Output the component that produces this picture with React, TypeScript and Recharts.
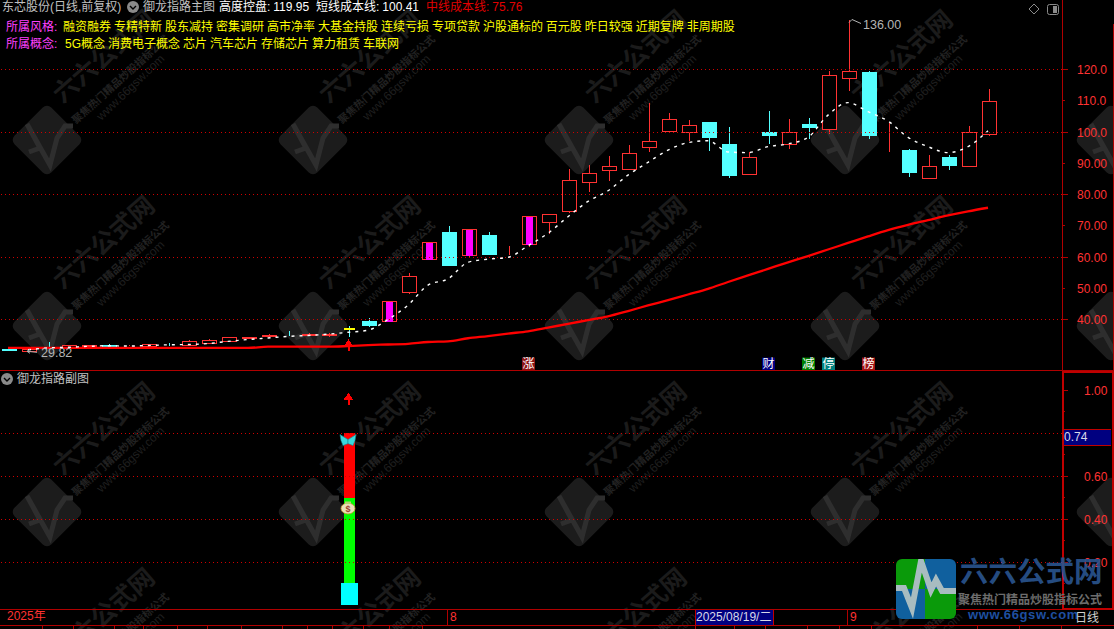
// App.tsx
import { ComposedChart, Bar, Line, XAxis, YAxis, ReferenceLine, ReferenceDot } from "recharts";

const opens = [30.6, 29.9, 31.5, 31.1, 31.6, 31.7, 31.5, 31.5, 31.9, 31.7, 32.6, 33.2, 34.2, 34.8, 35.4, 35.0, 35.0, 37.7, 39.5, 39.6, 48.9, 59.5, 68.0, 60.7, 67.0, 60.7, 64.3, 71.1, 74.8, 83.9, 87.9, 88.1, 95.1, 100.2, 100.1, 103.2, 96.2, 86.5, 100.0, 96.1, 102.6, 100.9, 117.2, 119.2, 98.9, 94.1, 85.4, 91.9, 89.0, 99.3];
const closes = [30.1, 30.5, 31.4, 31.7, 31.7, 31.6, 31.6, 32.2, 31.8, 33.0, 33.4, 34.3, 34.3, 35.2, 35.3, 35.4, 35.5, 37.6, 38.2, 45.8, 53.8, 64.7, 57.4, 68.9, 61.0, 60.8, 73.1, 73.7, 84.5, 86.8, 89.0, 93.2, 97.0, 104.1, 102.1, 98.5, 86.3, 91.9, 99.1, 99.9, 101.7, 118.1, 119.4, 99.1, 99.0, 87.3, 89.0, 89.5, 99.9, 110.0];
const highs = [30.9, 30.6, 32.8, 31.8, 31.8, 32.2, 31.7, 32.3, 32.5, 33.4, 33.8, 34.4, 34.4, 35.3, 36.3, 35.7, 35.7, 37.9, 40.5, 45.9, 54.9, 64.8, 69.9, 69.0, 68.0, 63.5, 73.2, 73.8, 88.2, 89.4, 92.3, 95.8, 109.2, 106.0, 103.8, 103.3, 101.6, 93.6, 106.7, 104.2, 104.5, 119.5, 136.0, 119.4, 102.8, 94.6, 92.6, 92.7, 101.9, 113.8];
const lows = [30.0, 29.82, 31.1, 31.0, 31.6, 31.4, 31.4, 31.5, 31.5, 31.5, 32.5, 33.0, 34.0, 34.6, 34.8, 34.9, 34.5, 34.5, 37.6, 39.4, 48.2, 59.0, 57.1, 59.9, 60.6, 60.5, 63.3, 67.4, 74.2, 80.9, 84.3, 88.0, 93.7, 99.6, 97.1, 94.0, 85.4, 86.4, 96.2, 94.7, 97.7, 99.5, 113.2, 97.9, 93.7, 85.7, 85.0, 87.8, 88.9, 98.7];
const shortCost = [null, 30.3, 30.9, 31.1, 31.4, 31.6, 31.5, 31.7, 31.9, 32.0, 32.3, 33.0, 33.6, 34.1, 34.6, 34.9, 35.3, 35.9, 36.6, 40.0, 44.6, 51.0, 53.0, 58.3, 59.3, 59.9, 63.6, 67.6, 72.9, 77.8, 81.2, 86.2, 90.3, 94.2, 96.6, 97.2, 93.6, 93.4, 95.3, 96.2, 98.3, 105.4, 109.4, 106.5, 103.5, 98.3, 95.3, 93.4, 95.3, 100.4];
const midCost = [30.9, 30.9, 30.9, 30.9, 30.9, 30.9, 30.9, 30.9, 30.9, 30.9, 30.9, 30.9, 30.9, 31.3, 31.3, 31.3, 31.3, 31.5, 31.8, 32.0, 32.2, 32.8, 33.0, 34.0, 34.7, 35.5, 36.2, 37.4, 38.6, 39.8, 41.0, 42.7, 44.5, 46.2, 48.0, 49.8, 52.0, 54.1, 56.2, 58.3, 60.3, 62.4, 64.5, 66.6, 68.6, 70.3, 71.8, 73.3, 74.6, 75.76];
const magentaDays = [19, 21, 23, 26];
const signalDay = 17;

const priceTicks = [120, 110, 100, 90, 80, 70, 60, 50, 40];
const priceLabels = ["120.0", "110.0", "100.0", "90.00", "80.00", "70.00", "60.00", "50.00", "40.00"];
const priceGrid = [120, 100, 80, 60, 40];

const subTicks = [1, 0.9, 0.8, 0.7, 0.6, 0.5, 0.4, 0.3, 0.2, 0.1];
const subLabels = ["1.00", "", "", "", "0.60", "", "0.40", "", "0.20", ""];
const subGrid = [0.8, 0.6, 0.4, 0.2];
const subCyan = 0.104;
const subGreen = 0.396;
const subRed = 0.3;

const eventDays = [26, 38, 40, 41, 43];
const eventNames = ["涨", "财", "减", "停", "榜"];
const eventColors = ["#8c1414", "#000080", "#008000", "#008080", "#a01414"];

const dateTicks = [0, 22, 35, 42];
const dateNames = ["2025年", "8", "2025/08/19/二", "9"];

const styleTags = "融资融券 专精特新 股东减持 密集调研 高市净率 大基金持股 连续亏损 专项贷款 沪股通标的 百元股 昨日较强 近期复牌 非周期股";
const conceptTags = "5G概念 消费电子概念 芯片 汽车芯片 存储芯片 算力租赁 车联网";
const tabLines = [42, 73, 114, 143, 177, 207, 241, 282, 307, 332, 363, 389, 422, 695, 734, 765, 807, 839, 871, 977, 1019, 1061];

const wmCols = [47, 313, 579, 845, 1111];
const wmRows = [140, 326, 512, 698];

const RED = "#ff3232";
const CYAN = "#54ffff";
const LINE = "#b00000";
const FONT = '"Liberation Sans","Noto Sans CJK SC",sans-serif';

const slots = Array.from({ length: 53 }, (_, i) => i);
const rows = slots.map((i) => ({
  idx: i,
  range: i < lows.length ? [lows[i], highs[i]] : null,
  open: opens[i],
  close: closes[i],
  short: shortCost[i],
  mid: midCost[i],
}));
const subRows = slots.map((i) => ({
  idx: i,
  cyan: i === signalDay ? subCyan : null,
  green: i === signalDay ? subGreen : null,
  red: i === signalDay ? subRed : null,
}));

function Candle(props: any) {
  const { x, y, width, height, payload } = props;
  if (!payload.range) return null;
  const [low, high] = payload.range;
  const ppu = height / (high - low);
  const yOf = (v: number) => Math.round(y + (high - v) * ppu);
  const cx = Math.round(x + width / 2);
  const up = payload.close >= payload.open;
  const color = up ? RED : CYAN;
  const top = yOf(Math.max(payload.open, payload.close));
  const bot = yOf(Math.min(payload.open, payload.close));
  return (
    <g shapeRendering="crispEdges">
      <line x1={cx + 0.5} x2={cx + 0.5} y1={yOf(high)} y2={yOf(low)} stroke={color} />
      <rect x={cx - 6.5} y={top + 0.5} width={14} height={bot - top} fill={up ? "#000" : CYAN} stroke={color} />
      {magentaDays.includes(payload.idx) && <rect x={cx - 3} y={top + 1} width={7} height={bot - top} fill="#ff00ff" />}
      {payload.idx === signalDay && <rect x={cx - 5} y={top + 1} width={11} height={2} fill="#ffff00" />}
    </g>
  );
}

function PriceTick(props: any) {
  const { x, y, payload } = props;
  const label = priceLabels[priceTicks.indexOf(payload.value)];
  const major = priceGrid.includes(payload.value);
  return (
    <g>
      <line x1={x} x2={x + (major ? 6 : 3)} y1={y} y2={y} stroke={LINE} shapeRendering="crispEdges" />
      <text x={x + 15} y={y + 4.5} fill={RED} fontSize={12} fontFamily={FONT}>{label}</text>
    </g>
  );
}

function SubTick(props: any) {
  const { x, y, payload } = props;
  const label = subLabels[subTicks.indexOf(payload.value)];
  const major = Math.round(payload.value * 10) % 2 === 0 || payload.value === 1;
  return (
    <g>
      <line x1={x} x2={x + (major ? 6 : 3)} y1={y} y2={y} stroke={LINE} shapeRendering="crispEdges" />
      {label && <text x={x + 22} y={y + 4.5} fill={RED} fontSize={12} fontFamily={FONT}>{label}</text>}
    </g>
  );
}

function DateTick(props: any) {
  const { x, y, payload } = props;
  const name = dateNames[dateTicks.indexOf(payload.value)];
  if (payload.value === 0) {
    return <text x={x - 1} y={y + 14} fill={RED} fontSize={12} fontFamily={FONT}>{name}</text>;
  }
  if (name.length > 2) {
    return (
      <g>
        <rect x={x - 13} y={y + 3} width={78} height={16} fill="#000080" stroke="#c00000" shapeRendering="crispEdges" />
        <text x={x - 12} y={y + 15} fill="#d8d8e8" fontSize={12} fontFamily={FONT}>{name}</text>
      </g>
    );
  }
  return (
    <g>
      <line x1={x - 0.5} x2={x - 0.5} y1={y + 3} y2={y + 19} stroke={LINE} shapeRendering="crispEdges" />
      <text x={x + 2} y={y + 15} fill={RED} fontSize={12} fontFamily={FONT}>{name}</text>
    </g>
  );
}

function Arrow({ cx, cy }: any) {
  return (
    <g shapeRendering="crispEdges">
      <path d={`M${cx + 0.5} ${cy - 6} L${cx + 5.5} ${cy + 1} L${cx - 4.5} ${cy + 1} Z`} fill="#ff0000" />
      <rect x={cx - 0.5} y={cy} width={2} height={6} fill="#ff0000" />
    </g>
  );
}

function Butterfly({ cx, cy }: any) {
  return (
    <g fill="#39d8dc" stroke="#128a90" strokeWidth={0.6}>
      <path d={`M${cx} ${cy - 1} L${cx - 8} ${cy - 6} L${cx - 7} ${cy} L${cx - 5} ${cy + 5} L${cx} ${cy + 3} Z`} />
      <path d={`M${cx} ${cy - 1} L${cx + 8} ${cy - 6} L${cx + 7} ${cy} L${cx + 5} ${cy + 5} L${cx} ${cy + 3} Z`} />
    </g>
  );
}

function MoneyBag({ cx, cy }: any) {
  return (
    <g>
      <ellipse cx={cx} cy={cy + 1} rx={7} ry={5.5} fill="#e8dfb8" stroke="#c89030" strokeWidth={0.8} />
      <rect x={cx - 3} y={cy - 6} width={6} height={2.5} fill="#b8d070" />
      <text x={cx} y={cy + 4.5} textAnchor="middle" fontSize={9} fontWeight={700} fill="#a04030" fontFamily={FONT}>$</text>
    </g>
  );
}

function EventBadge({ cx, cy, name, color }: any) {
  return (
    <g>
      <rect x={cx - 6} y={cy - 6} width={13} height={13} fill={color} />
      <text x={cx + 0.5} y={cy + 4.5} textAnchor="middle" fontSize={12} fill="#fff" fontFamily={FONT}>{name}</text>
    </g>
  );
}

function HighMark({ cx, cy }: any) {
  return (
    <g stroke="#b4b4b4" fill="none">
      <path d={`M${cx + 1} ${cy + 3} L${cx + 4} ${cy} L${cx + 13} ${cy + 4}`} />
      <text x={cx + 15} y={cy + 9} fill="#b4b4b4" stroke="none" fontSize={12.5} fontFamily={FONT}>136.00</text>
    </g>
  );
}

function LowMark({ cx, cy }: any) {
  return (
    <g stroke="#b4b4b4" fill="none">
      <path d={`M${cx + 2} ${cy + 2} L${cx - 1} ${cy} L${cx + 2} ${cy - 2} M${cx - 1} ${cy} L${cx + 9} ${cy + 1}`} />
      <text x={cx + 13} y={cy + 6} fill="#b4b4b4" stroke="none" fontSize={12.5} fontFamily={FONT}>29.82</text>
    </g>
  );
}

function Watermarks() {
  const pulse = "-18,12 -7,8 -20,-16 3,25 10,-2 18,-14 26,-14";
  return (
    <svg width={1114} height={629} style={{ position: "absolute", left: 0, top: 0 }}>
      {wmCols.map((cx) =>
        wmRows.map((cy) => (
          <g key={`${cx}-${cy}`} transform={`translate(${cx} ${cy})`}>
            {cy < 600 && <rect x={-26} y={-26} width={52} height={52} rx={6} fill="#1c1c1c" transform="rotate(45)" />}
            {cy < 600 && <polyline points={pulse} fill="none" stroke="#2e2e2e" strokeWidth={5} />}
            <text transform="translate(58 -82) rotate(-41)" textAnchor="middle" dominantBaseline="middle" fontSize={25} fontWeight={700} fill="#1b1b1b" fontFamily={FONT}>六六公式网</text>
            <text transform="translate(74 -60) rotate(-42)" textAnchor="middle" dominantBaseline="middle" fontSize={10.5} fontWeight={700} fill="#222" fontFamily={FONT}>聚焦热门精品炒股指标公式</text>
            <text transform="translate(84 -52) rotate(-44)" textAnchor="middle" dominantBaseline="middle" fontSize={12} fill="#1f1f1f" fontFamily={FONT}>www.66gsw.com</text>
          </g>
        ))
      )}
    </svg>
  );
}

function Header() {
  const label = (left: number, top: number, color: string, text: string) => (
    <div style={{ position: "absolute", left, top, color, fontSize: 12, lineHeight: "12px", whiteSpace: "pre", wordSpacing: "-0.35px", fontFamily: FONT }}>{text}</div>
  );
  return (
    <>
      {label(2, 1, "#c0c0c0", "东芯股份(日线,前复权)")}
      <svg width={12} height={12} style={{ position: "absolute", left: 127, top: 1 }}>
        <circle cx={6} cy={6} r={6} fill="#8a8a8a" />
        <path d="M3 5 L6 8 L9 5" stroke="#000" fill="none" strokeWidth={1.4} />
      </svg>
      {label(143, 1, "#c0c0c0", "御龙指路主图")}
      {label(219, 1, "#ffffff", "高度控盘: 119.95")}
      {label(316, 1, "#ffffff", "短线成本线: 100.41")}
      {label(426, 1, "#e00000", "中线成本线: 75.76")}
      {label(6, 21, "#ff40ff", "所属风格:")}
      {label(63, 21, "#ffff00", styleTags)}
      {label(6, 38, "#ff40ff", "所属概念:")}
      {label(65, 38, "#ffff00", conceptTags)}
      {label(17, 373, "#c0c0c0", "御龙指路副图")}
      <svg width={12} height={12} style={{ position: "absolute", left: 1, top: 373 }}>
        <circle cx={6} cy={6} r={6} fill="#8a8a8a" />
        <path d="M3 5 L6 8 L9 5" stroke="#000" fill="none" strokeWidth={1.4} />
      </svg>
      <svg width={34} height={16} style={{ position: "absolute", left: 1026, top: 1 }}>
        <path d="M8 3 L13 8 L8 13 L3 8 Z" fill="none" stroke="#8a8a8a" />
        <rect x={21.5} y={3.5} width={11} height={10} rx={2} fill="none" stroke="#8a8a8a" />
        <rect x={27} y={5} width={4} height={7} fill="#8a8a8a" />
      </svg>
    </>
  );
}

function Frame() {
  const hLine = (top: number, w = 1114) => <div style={{ position: "absolute", left: 0, top, width: w, height: 1, background: LINE }} />;
  return (
    <>
      {hLine(370)}
      {hLine(609)}
      {hLine(625)}
      <div style={{ position: "absolute", left: 1113, top: 24, width: 1, height: 346, background: LINE }} />
      <div style={{ position: "absolute", left: 1062, top: 371, width: 48, height: 235, border: "2px solid #c00000" }} />
      <div style={{ position: "absolute", left: 1064, top: 429, width: 47, height: 15, background: "#000080", borderTop: "1px solid #c00000", borderBottom: "1px solid #c00000", color: "#d8d8e8", fontSize: 12, lineHeight: "15px", fontFamily: FONT }}>0.74</div>
      {tabLines.map((x) => (
        <div key={x} style={{ position: "absolute", left: x, top: 625, width: 1, height: 4, background: LINE }} />
      ))}
    </>
  );
}

function Logo() {
  return (
    <>
      <svg width={62} height={62} style={{ position: "absolute", left: 895, top: 558 }}>
        <defs>
          <clipPath id="logoClip"><rect x={1} y={1} width={60} height={60} rx={6} /></clipPath>
        </defs>
        <g clipPath="url(#logoClip)">
          <rect x={0} y={0} width={30} height={31} fill="#0a9a0a" />
          <rect x={30} y={0} width={32} height={31} fill="#10609e" />
          <rect x={0} y={31} width={30} height={31} fill="#10609e" />
          <rect x={30} y={31} width={32} height={31} fill="#0a9a0a" />
          <polyline points="0,30 9,30 17,50 26,3 36,32 41,22 47,33 62,33" fill="none" stroke="#a8bcc0" strokeWidth={6} />
        </g>
      </svg>
      <div style={{ position: "absolute", left: 960, top: 555, color: "#2a5590", opacity: 0.9, fontSize: 28.5, fontWeight: 700, lineHeight: "34px", whiteSpace: "pre", fontFamily: FONT }}>六六公式网</div>
      <div style={{ position: "absolute", left: 958, top: 593, color: "#6c6c6c", fontSize: 12, fontWeight: 700, lineHeight: "14px", whiteSpace: "pre", fontFamily: FONT }}>聚焦热门精品炒股指标公式</div>
      <div style={{ position: "absolute", left: 968, top: 607, color: "#1f4fa0", fontSize: 13, fontWeight: 700, letterSpacing: 0.6, lineHeight: "15px", whiteSpace: "pre", fontFamily: FONT }}>www.66gsw.com</div>
      <div style={{ position: "absolute", left: 1075, top: 611, color: "#d0d0d0", fontSize: 12, lineHeight: "14px", fontFamily: FONT }}>日线</div>
    </>
  );
}

function MainChart() {
  return (
    <ComposedChart width={1116} height={371} data={rows} margin={{ top: 0, right: 0, bottom: 0, left: 0 }} style={{ position: "absolute", left: -2, top: 0 }}>
      <XAxis dataKey="idx" type="category" hide padding={{ left: 0, right: 4 }} />
      <YAxis
        orientation="right"
        width={52}
        domain={[23.52, 142.24]}
        allowDataOverflow
        ticks={priceTicks}
        interval={0}
        tick={PriceTick}
        tickLine={false}
        tickSize={0}
        tickMargin={0}
        axisLine={{ stroke: LINE, shapeRendering: "crispEdges" }}
      />
      {priceGrid.map((v) => (
        <ReferenceLine key={v} y={v} stroke="#d00000" strokeDasharray="1 3" shapeRendering="crispEdges" />
      ))}
      <Bar dataKey="range" barSize={15} shape={Candle} isAnimationActive={false} />
      <Line dataKey="mid" type="monotone" stroke="#ff0000" strokeWidth={2.3} dot={false} activeDot={false} isAnimationActive={false} />
      <Line dataKey="short" type="monotone" stroke="#ffffff" strokeWidth={1.4} strokeDasharray="3 5" dot={false} activeDot={false} isAnimationActive={false} />
      <ReferenceDot x={signalDay} y={31.7} ifOverflow="visible" shape={Arrow} />
      <ReferenceDot x={42} y={136} ifOverflow="visible" shape={HighMark} />
      <ReferenceDot x={1} y={29.82} ifOverflow="visible" shape={LowMark} />
      {eventDays.map((d, i) => (
        <ReferenceDot key={d} x={d} y={25.9} ifOverflow="visible" shape={(p: any) => <EventBadge {...p} name={eventNames[i]} color={eventColors[i]} />} />
      ))}
    </ComposedChart>
  );
}

const slimBar = (w: number, fill: string) => (p: any) => {
  if (!p.height) return null;
  return <rect x={Math.round(p.x + p.width / 2) - Math.floor(w / 2)} y={p.y} width={w} height={p.height} fill={fill} shapeRendering="crispEdges" />;
};

function SubChart() {
  return (
    <ComposedChart width={1116} height={258} data={subRows} margin={{ top: 0, right: 0, bottom: 0, left: 0 }} style={{ position: "absolute", left: -2, top: 371 }}>
      <XAxis dataKey="idx" type="category" height={23} padding={{ left: 0, right: 4 }} ticks={dateTicks} interval={0} tick={DateTick} tickLine={false} tickSize={0} tickMargin={0} axisLine={false} />
      <YAxis orientation="right" width={52} domain={[-0.0032, 1.0898]} allowDataOverflow ticks={subTicks} interval={0} tick={SubTick} tickLine={false} tickSize={0} tickMargin={0} axisLine={false} />
      {subGrid.map((v) => (
        <ReferenceLine key={v} y={v} stroke="#d00000" strokeDasharray="1 3" shapeRendering="crispEdges" />
      ))}
      <Bar dataKey="cyan" stackId="s" barSize={11} shape={slimBar(17, "#00ffff")} isAnimationActive={false} />
      <Bar dataKey="green" stackId="s" barSize={11} shape={slimBar(11, "#00ff00")} isAnimationActive={false} />
      <Bar dataKey="red" stackId="s" barSize={11} shape={slimBar(11, "#ff0000")} isAnimationActive={false} />
      <ReferenceDot x={signalDay} y={0.96} ifOverflow="visible" shape={Arrow} />
      <ReferenceDot x={signalDay} y={0.766} ifOverflow="visible" shape={Butterfly} />
      <ReferenceDot x={signalDay} y={0.455} ifOverflow="visible" shape={MoneyBag} />
    </ComposedChart>
  );
}

export default function App() {
  return (
    <div style={{ position: "fixed", left: 0, top: 0, width: 1114, height: 629, background: "#000", overflow: "hidden" }}>
      <Watermarks />
      <MainChart />
      <SubChart />
      <Frame />
      <Header />
      <Logo />
    </div>
  );
}
